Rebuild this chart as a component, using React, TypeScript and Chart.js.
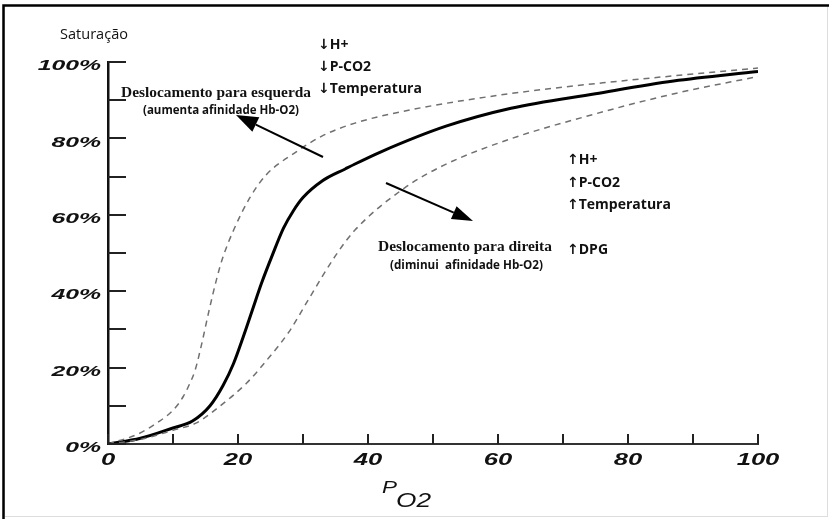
import React, { useEffect, useRef } from "react";
import { Chart, registerables } from "chart.js";

Chart.register(...registerables);

// ---- Data ----
const normalPO2 = [0, 5, 10, 13, 15.7, 17.7, 19.3, 20.8, 22.2, 23.6, 25.3, 27, 28.5, 30, 33, 36.5, 38, 42, 52, 62, 75, 87, 100];
const normalSat = [0, 1.5, 4.2, 6, 10, 15.3, 21, 28, 35, 42, 49.5, 56.5, 61, 64.5, 68.9, 72, 73.3, 76.5, 83.2, 87.9, 91.7, 95, 97.5];

const leftPO2 = [0, 4.6, 7.6, 10.1, 11.6, 12.6, 13.4, 14.4, 15.5, 16.7, 17.6, 19.3, 21.8, 24.3, 28.9, 32.9, 38, 46.6, 61.8, 77, 100];
const leftSat = [0, 2.6, 5.6, 9, 12.5, 15.9, 19.3, 26.1, 34.6, 43.1, 48.5, 55.9, 64.4, 70.4, 76.4, 80.6, 84, 87.5, 91.7, 94.7, 98.4];

const rightPO2 = [0, 5, 10, 13.7, 17.2, 21.3, 24.8, 27.9, 30.9, 35, 38, 45.6, 51.7, 61.8, 74.5, 87.1, 100];
const rightSat = [0, 1.2, 3.6, 5.6, 9.9, 15.9, 22.7, 29.5, 38, 49.3, 56, 67, 73, 79.8, 86.2, 91.7, 96.2];

const xTickValues = [0, 10, 20, 30, 40, 50, 60, 70, 80, 90, 100];
const xLabelValues = [0, 20, 40, 60, 80, 100];
const yLabelValues = [0, 20, 40, 60, 80, 100];

const yAxisTitle = "Saturação";
const xAxisMain = "P";
const xAxisSub = "O2";

const leftEffects = ["↓H+", "↓P-CO2", "↓Temperatura"];
const rightEffects = ["↑H+", "↑P-CO2", "↑Temperatura"];
const dpgText = "↑DPG";
const leftShiftTitle = "Deslocamento para esquerda";
const leftShiftSub = "(aumenta afinidade Hb-O2)";
const rightShiftTitle = "Deslocamento para direita";
const rightShiftSub = "(diminui  afinidade Hb-O2)";

const toPoints = (xs: number[], ys: number[]) => xs.map((x, i) => ({ x, y: ys[i] }));

const SANS = '"Open Sans", "Noto Sans", "DejaVu Sans", sans-serif';
const AXISFONT = '"Liberation Sans", Arial, sans-serif';
const SERIF = '"Liberation Serif", "Times New Roman", serif';

function drawText(
  ctx: CanvasRenderingContext2D,
  text: string,
  x: number,
  y: number,
  font: string,
  opts: { align?: CanvasTextAlign; baseline?: CanvasTextBaseline; sx?: number; width?: number; color?: string } = {}
) {
  ctx.save();
  ctx.font = font;
  ctx.fillStyle = opts.color || "#111";
  ctx.textAlign = opts.align || "left";
  ctx.textBaseline = opts.baseline || "alphabetic";
  let sx = opts.sx || 1;
  if (opts.width) {
    const w = ctx.measureText(text).width;
    if (w > 0) sx = opts.width / w;
  }
  ctx.translate(x, y);
  ctx.scale(sx, 1);
  ctx.fillText(text, 0, 0);
  ctx.restore();
}

function drawArrow(ctx: CanvasRenderingContext2D, x1: number, y1: number, x2: number, y2: number, headLen: number, headHalf: number) {
  const ang = Math.atan2(y2 - y1, x2 - x1);
  const bx = x2 - headLen * Math.cos(ang);
  const by = y2 - headLen * Math.sin(ang);
  ctx.save();
  ctx.strokeStyle = "#000";
  ctx.fillStyle = "#000";
  ctx.lineWidth = 2;
  ctx.beginPath();
  ctx.moveTo(x1, y1);
  ctx.lineTo(bx, by);
  ctx.stroke();
  ctx.beginPath();
  ctx.moveTo(x2, y2);
  ctx.lineTo(bx + headHalf * Math.sin(ang), by - headHalf * Math.cos(ang));
  ctx.lineTo(bx - headHalf * Math.sin(ang), by + headHalf * Math.cos(ang));
  ctx.closePath();
  ctx.fill();
  ctx.restore();
}

const decorPlugin = {
  id: "decor",
  beforeDraw(chart: any) {
    const ctx = chart.ctx as CanvasRenderingContext2D;
    ctx.save();
    ctx.fillStyle = "#fff";
    ctx.fillRect(0, 0, chart.width, chart.height);
    // frame
    ctx.strokeStyle = "#ddd";
    ctx.lineWidth = 1;
    ctx.strokeRect(4.5, 5.5, 823, 511);
    ctx.strokeStyle = "#000";
    ctx.lineWidth = 2.5;
    ctx.beginPath();
    ctx.moveTo(3.5, 519);
    ctx.lineTo(3.5, 5.5);
    ctx.lineTo(829, 5.5);
    ctx.stroke();
    ctx.restore();
  },
  afterDraw(chart: any) {
    const ctx = chart.ctx as CanvasRenderingContext2D;
    const xs = chart.scales.x;
    const ys = chart.scales.y;
    ctx.save();
    // inward tick marks
    ctx.strokeStyle = "#222";
    ctx.lineWidth = 2;
    ys.ticks.forEach((t: any) => {
      const py = Math.round(ys.getPixelForValue(t.value));
      ctx.beginPath();
      ctx.moveTo(xs.left, py);
      ctx.lineTo(xs.left + 18, py);
      ctx.stroke();
    });
    xTickValues.forEach((v) => {
      const px = Math.round(xs.getPixelForValue(v));
      ctx.beginPath();
      ctx.moveTo(px, ys.bottom);
      ctx.lineTo(px, ys.bottom - 10);
      ctx.stroke();
    });
    ctx.restore();

    // tick labels
    yLabelValues.forEach((v) => {
      const py = ys.getPixelForValue(v);
      drawText(ctx, `${v}%`, xs.left - 7, py + 4, `italic bold 15px ${AXISFONT}`, {
        align: "right",
        baseline: "middle",
        sx: 1.65,
      });
    });
    xLabelValues.forEach((v) => {
      const px = xs.getPixelForValue(v);
      drawText(ctx, `${v}`, px, ys.bottom + 17, `italic bold 16px ${AXISFONT}`, {
        align: "center",
        baseline: "middle",
        sx: 1.6,
      });
    });

    // axis titles
    drawText(ctx, yAxisTitle, 60, 39, `15px ${SANS}`, { width: 68 });
    drawText(ctx, xAxisMain, 382, 493, `italic 16px ${AXISFONT}`, { width: 15 });
    drawText(ctx, xAxisSub, 396, 507, `italic 21px ${AXISFONT}`, { width: 35 });

    // left-shift annotations
    leftEffects.forEach((t, i) => {
      drawText(ctx, t, 318, 49 + i * 22, `bold 14px ${SANS}`);
    });
    drawText(ctx, leftShiftTitle, 121, 97, `bold 15px ${SERIF}`, { width: 190 });
    drawText(ctx, leftShiftSub, 143, 114, `bold 12px ${SANS}`, { width: 156 });
    drawArrow(ctx, 323, 157, 236, 115, 22, 8);

    // right-shift annotations
    rightEffects.forEach((t, i) => {
      drawText(ctx, t, 567, 164 + i * 22.5, `bold 14px ${SANS}`);
    });
    drawText(ctx, dpgText, 567, 254, `bold 14px ${SANS}`);
    drawText(ctx, rightShiftTitle, 378, 251, `bold 15px ${SERIF}`, { width: 174 });
    drawText(ctx, rightShiftSub, 390, 269, `bold 12px ${SANS}`, { width: 153 });
    drawArrow(ctx, 386, 183, 473, 221, 21, 7);
  },
};

export default function App() {
  const canvasRef = useRef<HTMLCanvasElement | null>(null);

  useEffect(() => {
    if (!canvasRef.current) return;
    const chart = new Chart(canvasRef.current, {
      type: "line",
      data: {
        datasets: [
          {
            label: "Desvio para esquerda",
            data: toPoints(leftPO2, leftSat),
            borderColor: "#707070",
            borderWidth: 1.5,
            borderDash: [6, 5],
            pointRadius: 0,
            cubicInterpolationMode: "monotone",
            fill: false,
          },
          {
            label: "Desvio para direita",
            data: toPoints(rightPO2, rightSat),
            borderColor: "#707070",
            borderWidth: 1.5,
            borderDash: [6, 5],
            pointRadius: 0,
            cubicInterpolationMode: "monotone",
            fill: false,
          },
          {
            label: "Normal",
            data: toPoints(normalPO2, normalSat),
            borderColor: "#000",
            borderWidth: 3,
            pointRadius: 0,
            cubicInterpolationMode: "monotone",
            fill: false,
          },
        ],
      },
      options: {
        animation: false,
        responsive: false,
        devicePixelRatio: 1,
        layout: { padding: { left: 100, right: 72, top: 62, bottom: 70 } },
        plugins: { legend: { display: false }, tooltip: { enabled: false } },
        scales: {
          x: {
            type: "linear",
            min: 0,
            max: 100,
            ticks: { stepSize: 10, display: false },
            grid: { display: false },
            border: { display: true, color: "#333", width: 2 },
          },
          y: {
            type: "linear",
            min: 0,
            max: 100,
            ticks: { stepSize: 10, display: false },
            grid: { display: false },
            border: { display: true, color: "#111", width: 2.5 },
          },
        },
      },
      plugins: [decorPlugin],
    } as any);
    return () => chart.destroy();
  }, []);

  return (
    <div style={{ position: "absolute", left: 0, top: 0, width: 830, height: 522 }}>
      <canvas ref={canvasRef} width={830} height={522} style={{ display: "block" }} />
    </div>
  );
}
